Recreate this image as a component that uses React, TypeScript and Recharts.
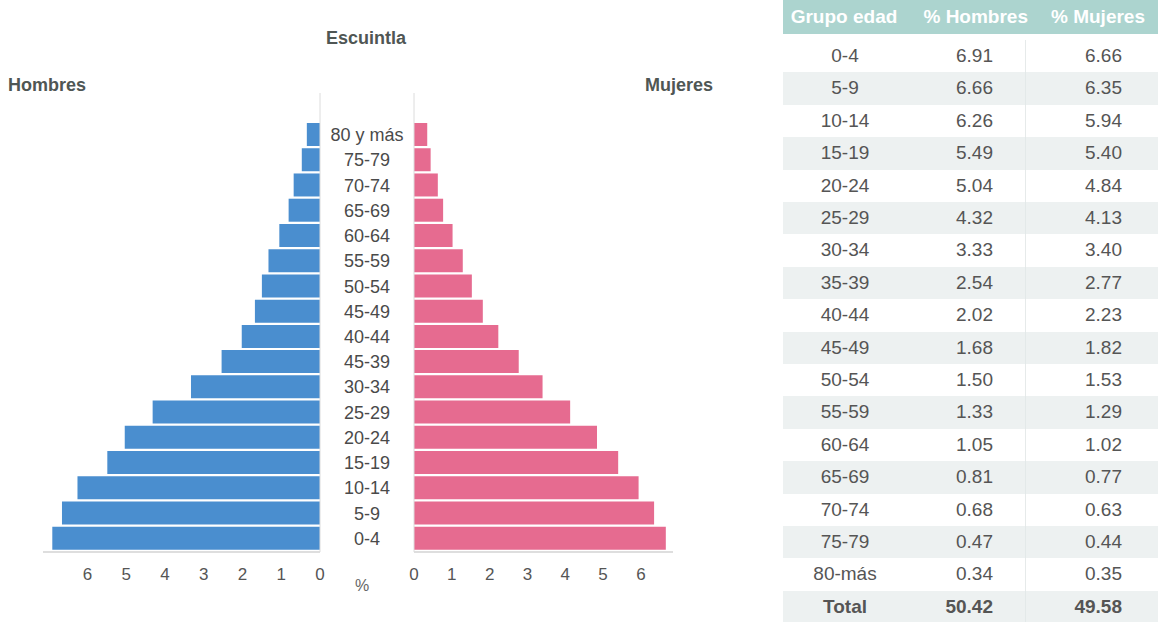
import { BarChart, Bar, XAxis, YAxis } from "recharts"

// etiquetas tal como aparecen en la pirámide (de abajo hacia arriba)
const ageLabels = ["0-4", "5-9", "10-14", "15-19", "20-24", "25-29", "30-34", "45-39", "40-44", "45-49", "50-54", "55-59", "60-64", "65-69", "70-74", "75-79", "80 y más"]
// etiquetas de la tabla
const tableGroups = ["0-4", "5-9", "10-14", "15-19", "20-24", "25-29", "30-34", "35-39", "40-44", "45-49", "50-54", "55-59", "60-64", "65-69", "70-74", "75-79", "80-más"]
const hombres = [6.91, 6.66, 6.26, 5.49, 5.04, 4.32, 3.33, 2.54, 2.02, 1.68, 1.5, 1.33, 1.05, 0.81, 0.68, 0.47, 0.34]
const mujeres = [6.66, 6.35, 5.94, 5.4, 4.84, 4.13, 3.4, 2.77, 2.23, 1.82, 1.53, 1.29, 1.02, 0.77, 0.63, 0.44, 0.35]
const totalHombres = 50.42
const totalMujeres = 49.58
const xTicks = [0, 1, 2, 3, 4, 5, 6]

const BLUE = "#4a8ecf"
const PINK = "#e66b90"
const TEXT = "#4a4a4a"
const TITLE = "#4f5654"

const rows = ageLabels.map((label, i) => ({ label, h: hombres[i], m: mujeres[i] }))

function AgeTick(props: any) {
  const { x, y, payload } = props
  return (
    <text x={x + 47} y={y} dy="0.36em" textAnchor="middle" fontSize={18} fill={TEXT}>
      {payload.value}
    </text>
  )
}

const axisTick = { fontSize: 17, fill: "#555" }

function Pyramid() {
  return (
    <>
      <div style={{ position: "absolute", left: 0, top: 0 }}>
        <BarChart
          width={413}
          height={622}
          layout="vertical"
          data={rows}
          margin={{ top: 93, right: 0, bottom: 40, left: 43 }}
          barCategoryGap={1}
        >
          <XAxis
            type="number"
            domain={[0, 7.15]}
            ticks={xTicks}
            interval={0}
            reversed
            height={30}
            axisLine={{ stroke: "#bdbdbd" }}
            tickLine={false}
            tickSize={6}
            tickMargin={10}
            tick={axisTick}
          />
          <YAxis
            type="category"
            dataKey="label"
            orientation="right"
            reversed
            width={93}
            interval={0}
            padding={{ top: 29, bottom: 1 }}
            axisLine={{ stroke: "#dcdcdc" }}
            tickLine={false}
            tickSize={0}
            tickMargin={0}
            tick={<AgeTick />}
          />
          <Bar dataKey="h" fill={BLUE} isAnimationActive={false} />
        </BarChart>
      </div>
      <div style={{ position: "absolute", left: 400, top: 0 }}>
        <BarChart
          width={283}
          height={622}
          layout="vertical"
          data={rows}
          margin={{ top: 93, right: 10, bottom: 40, left: 13 }}
          barCategoryGap={1}
        >
          <XAxis
            type="number"
            domain={[0, 6.85]}
            ticks={xTicks}
            interval={0}
            height={30}
            axisLine={{ stroke: "#bdbdbd" }}
            tickLine={false}
            tickSize={6}
            tickMargin={10}
            tick={axisTick}
          />
          <YAxis
            type="category"
            dataKey="label"
            reversed
            width={1}
            interval={0}
            padding={{ top: 29, bottom: 1 }}
            axisLine={{ stroke: "#dcdcdc" }}
            tickLine={false}
            tick={false}
          />
          <Bar dataKey="m" fill={PINK} isAnimationActive={false} />
        </BarChart>
      </div>
      <svg width={780} height={622} style={{ position: "absolute", left: 0, top: 0, pointerEvents: "none" }}>
        <text x={366} y={44} textAnchor="middle" fontSize={18} fontWeight="bold" fill={TITLE}>Escuintla</text>
        <text x={8} y={91} fontSize={18} fontWeight="bold" fill={TITLE}>Hombres</text>
        <text x={713} y={91} textAnchor="end" fontSize={18} fontWeight="bold" fill={TITLE}>Mujeres</text>
        <text x={362} y={591} textAnchor="middle" fontSize={16} fill="#666">%</text>
      </svg>
    </>
  )
}

const ROW_TOP = 40
const ROW_H = 32.4

function Table() {
  const cell = (v: string, left: number, width: number, align: "center" | "right", bold = false) => (
    <div style={{ position: "absolute", left, width, textAlign: align, fontWeight: bold ? "bold" : "normal" }}>{v}</div>
  )
  return (
    <div style={{ position: "absolute", left: 783, top: 0, width: 375, height: 622, fontSize: 19, color: "#555" }}>
      <div style={{ position: "absolute", left: 0, top: 0, width: 375, height: 34, background: "#acd4cf", color: "#fff", fontWeight: "bold", lineHeight: "34px" }}>
        {cell("Grupo edad", 0, 122, "center", true)}
        {cell("% Hombres", 100, 145, "right", true)}
        {cell("% Mujeres", 250, 112, "right", true)}
      </div>
      <div style={{ position: "absolute", left: 242, top: ROW_TOP, width: 1, height: 622 - ROW_TOP, background: "#e6eaea" }} />
      {tableGroups.map((g, i) => (
        <div
          key={g}
          style={{
            position: "absolute",
            left: 0,
            top: ROW_TOP + i * ROW_H,
            width: 375,
            height: ROW_H,
            lineHeight: `${ROW_H}px`,
            background: i % 2 === 1 ? "rgba(225,232,231,0.6)" : "transparent",
          }}
        >
          {cell(g, 0, 124, "center")}
          {cell(hombres[i].toFixed(2), 110, 100, "right")}
          {cell(mujeres[i].toFixed(2), 239, 100, "right")}
        </div>
      ))}
      <div
        style={{
          position: "absolute",
          left: 0,
          top: ROW_TOP + tableGroups.length * ROW_H,
          width: 375,
          height: ROW_H,
          lineHeight: `${ROW_H}px`,
          background: "rgba(225,232,231,0.6)",
        }}
      >
        {cell("Total", 0, 124, "center", true)}
        {cell(totalHombres.toFixed(2), 110, 100, "right", true)}
        {cell(totalMujeres.toFixed(2), 239, 100, "right", true)}
      </div>
    </div>
  )
}

export default function App() {
  return (
    <div
      style={{
        position: "absolute",
        left: 0,
        top: 0,
        width: 1161,
        height: 622,
        background: "#fff",
        fontFamily: "'Liberation Sans', Arial, sans-serif",
        overflow: "hidden",
      }}
    >
      <Pyramid />
      <Table />
    </div>
  )
}
